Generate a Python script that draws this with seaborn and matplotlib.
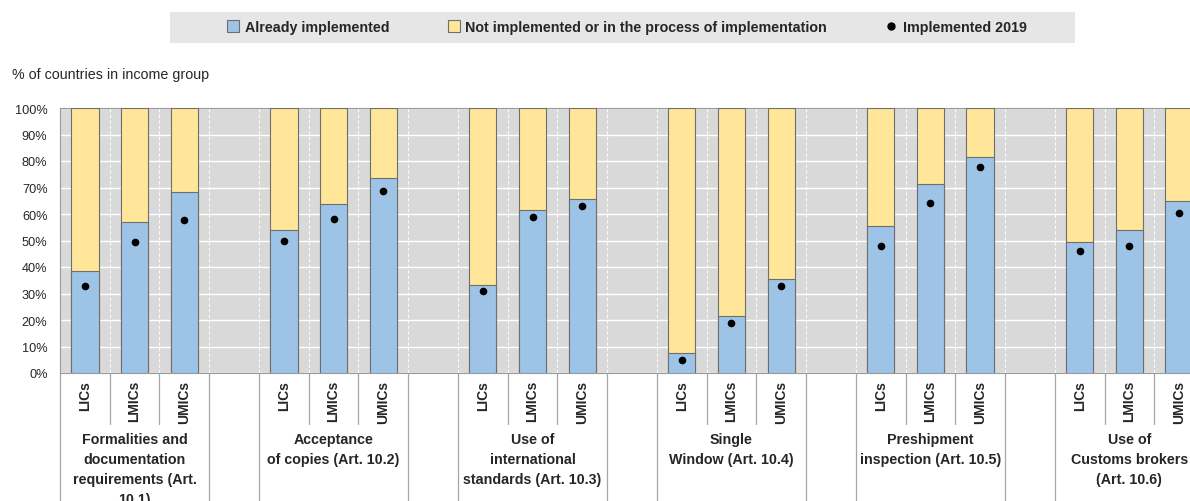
import numpy as np
import pandas as pd
import matplotlib
matplotlib.use("Agg")
import matplotlib.pyplot as plt
from matplotlib.lines import Line2D
from matplotlib.patches import Rectangle
import seaborn as sns

# Trade facilitation measures, grouped by article, with income groups inside each
measures = [
    "Formalities and\ndocumentation\nrequirements (Art.\n10.1)",
    "Acceptance\nof copies (Art. 10.2)",
    "Use of\ninternational\nstandards (Art. 10.3)",
    "Single\nWindow (Art. 10.4)",
    "Preshipment\ninspection (Art. 10.5)",
    "Use of\nCustoms brokers\n(Art. 10.6)",
]
income_groups = ["LICs", "LMICs", "UMICs"]

# % of countries already implementing (per measure: LICs, LMICs, UMICs)
already_implemented = [
    [38.5, 57.1, 68.4],
    [53.8, 63.6, 73.7],
    [33.3, 61.5, 65.5],
    [7.5, 21.6, 35.5],
    [55.6, 71.4, 81.6],
    [49.4, 53.8, 65.0],
]
# % of countries implemented in 2019
implemented_2019 = [
    [32.8, 49.6, 57.9],
    [49.9, 58.0, 68.8],
    [30.8, 58.9, 63.0],
    [4.9, 18.7, 32.8],
    [47.9, 64.0, 77.9],
    [45.9, 47.9, 60.3],
]

BLUE = "#9DC3E6"
YELLOW = "#FFE699"
PANEL = "#D9D9D9"
EDGE = "#6E6E6E"
SEP = "#A6A6A6"

# Build categorical slots: three bars per measure, one empty slot between measures
order, rows = [], []
for g, name in enumerate(measures):
    for i, inc in enumerate(income_groups):
        slot = f"{g}|{inc}"
        order.append(slot)
        rows.append({"slot": slot, "income": inc,
                     "total": 100.0,
                     "implemented": already_implemented[g][i],
                     "y2019": implemented_2019[g][i]})
    if g < len(measures) - 1:
        order.append(f"gap{g}")
df = pd.DataFrame(rows)

sns.set_style("white")
plt.rcParams["font.family"] = ["Liberation Sans", "DejaVu Sans"]

fig = plt.figure(figsize=(11.90, 5.02), dpi=100)
ax_left, ax_right = 60 / 1190, 1204 / 1190
ax_bottom, ax_top = (502 - 374) / 502, (502 - 109) / 502
ax = fig.add_axes([ax_left, ax_bottom, ax_right - ax_left, ax_top - ax_bottom])
ax.set_facecolor(PANEL)

bar_kw = dict(order=order, width=0.55, saturation=1, errorbar=None,
              edgecolor=EDGE, linewidth=0.8, ax=ax, zorder=3)
sns.barplot(data=df, x="slot", y="total", color=YELLOW, **bar_kw)
sns.barplot(data=df, x="slot", y="implemented", color=BLUE, **bar_kw)
sns.stripplot(data=df, x="slot", y="y2019", order=order, jitter=False,
              color="black", size=5.5, linewidth=0, ax=ax, zorder=5)

n_slots = len(order)
ax.set_xlim(-0.5, n_slots - 0.5)
ax.set_ylim(0, 100)
ax.set_yticks(np.arange(0, 101, 10))
ax.set_yticklabels([f"{v}%" for v in range(0, 101, 10)], fontsize=9.2)
ax.set_xticks(range(n_slots))
ax.set_xticklabels([s.split("|")[1] if "|" in s else "" for s in order],
                   rotation=90, fontsize=10, fontweight="bold")
ax.set_xticks(np.arange(-0.5, n_slots, 1), minor=True)
ax.tick_params(axis="x", which="both", length=0, pad=5)
ax.tick_params(axis="y", length=0, pad=9)
ax.set_xlabel("")
ax.set_ylabel("")

ax.set_axisbelow(True)
ax.yaxis.grid(True, color="white", linewidth=1.0)
ax.xaxis.grid(True, which="minor", color="white", linewidth=0.8,
              linestyle=(0, (3, 2)), alpha=0.9)
ax.xaxis.grid(False, which="major")
for side in ["left", "right", "top", "bottom"]:
    ax.spines[side].set_color("#9A9A9A")
    ax.spines[side].set_linewidth(0.8)

# Separators beneath the axis and measure names
trans = ax.get_xaxis_transform()
short_end = (374 - 425) / 265
for g, name in enumerate(measures):
    s = 4 * g
    for xb in (s - 0.5, s + 2.5):
        ax.plot([xb, xb], [0, -0.6], transform=trans, color=SEP, lw=0.9,
                clip_on=False, zorder=1)
    for xb in (s + 0.5, s + 1.5):
        ax.plot([xb, xb], [0, short_end], transform=trans, color=SEP, lw=0.9,
                clip_on=False, zorder=1)
    ax.text(s + 1, (374 - 433) / 265, name, transform=trans, ha="center",
            va="top", multialignment="center", fontsize=10.3,
            fontweight="bold", linespacing=1.55)

fig.text(12 / 1190, 1 - 75 / 502, "% of countries in income group",
         fontsize=10.3, va="center", ha="left")

# Legend band
fig.patches.append(Rectangle((170 / 1190, (502 - 44) / 502), 905 / 1190, 31 / 502,
                             transform=fig.transFigure, facecolor="#E6E6E6",
                             edgecolor="none", zorder=0))
handles = [
    Line2D([], [], marker="s", linestyle="none", markersize=8,
           markerfacecolor=BLUE, markeredgecolor=EDGE, markeredgewidth=0.8),
    Line2D([], [], marker="s", linestyle="none", markersize=8,
           markerfacecolor=YELLOW, markeredgecolor=EDGE, markeredgewidth=0.8),
    Line2D([], [], marker="o", linestyle="none", markersize=5,
           markerfacecolor="black", markeredgecolor="black"),
]
labels = ["Already implemented",
          "Not implemented or in the process of implementation",
          "Implemented 2019"]
fig.legend(handles, labels, loc="center", bbox_to_anchor=(627 / 1190, 1 - 28 / 502),
           ncol=3, frameon=False, handlelength=0.8, handletextpad=0.4,
           columnspacing=4.1, prop={"size": 10.3, "weight": "bold"})

fig.savefig("out.png", dpi=100)
